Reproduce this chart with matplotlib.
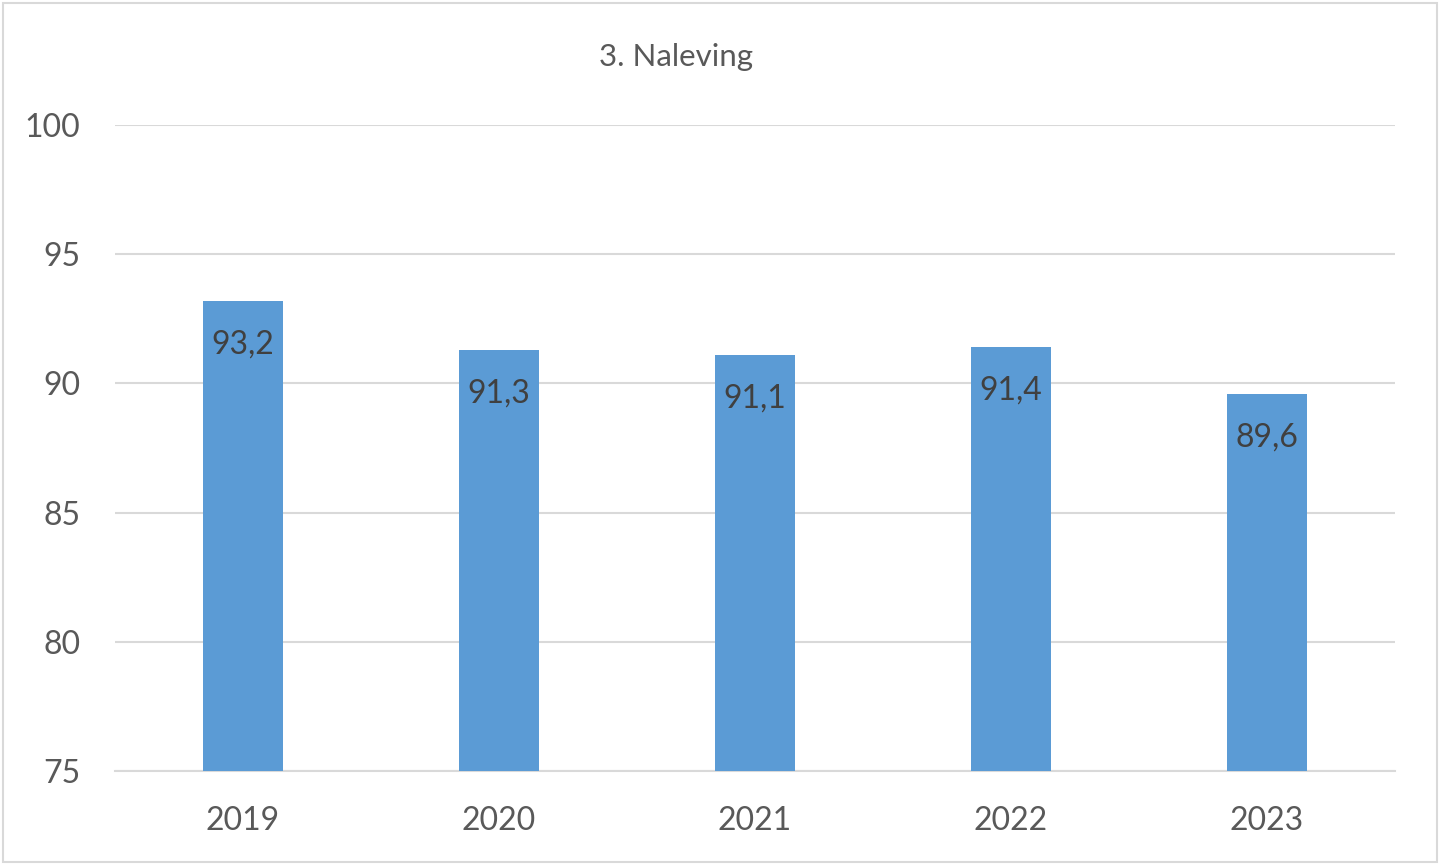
import matplotlib.pyplot as plt
from matplotlib.patches import Rectangle

years = ['2019', '2020', '2021', '2022', '2023']
scores = [93.2, 91.3, 91.1, 91.4, 89.6]
y_ticks = [75, 80, 85, 90, 95, 100]

plt.rcParams['font.family'] = ['Lato', 'DejaVu Sans']

fig = plt.figure(figsize=(14.4, 8.65), dpi=100)
ax = fig.add_axes([115 / 1440, 1 - 771 / 865, 1280 / 1440, 646 / 865])

x = range(len(years))
bars = ax.bar(x, [s - 75 for s in scores], bottom=75, width=0.3125,
              color='#5B9BD5', zorder=3)

# waarden in de staaf, net onder de bovenkant
for bar, s in zip(bars, scores):
    ax.annotate(f'{s:.1f}'.replace('.', ','),
                (bar.get_x() + bar.get_width() / 2, s),
                xytext=(0, -31.5), textcoords='offset points',
                ha='center', va='center', fontsize=23, color='#404040', zorder=4)

ax.set_xlim(-0.5, 4.5)
ax.set_ylim(75, 100)
ax.set_yticks(y_ticks)
ax.set_xticks(list(x))
ax.set_xticklabels(years)
ax.tick_params(axis='both', length=0, labelsize=23, colors='#595959')
ax.tick_params(axis='y', pad=25)
ax.tick_params(axis='x', pad=25)
ax.grid(axis='y', color='#D9D9D9', linewidth=1.5, zorder=0)
for side in ['top', 'right', 'left']:
    ax.spines[side].set_visible(False)
ax.spines['bottom'].set_color('#D9D9D9')
ax.spines['bottom'].set_linewidth(1.5)

fig.text(676 / 1440, 1 - 57 / 865, '3. Naleving', ha='center', va='center',
         fontsize=22.5, color='#595959')

fig.patches.append(Rectangle((0.002, 0.003), 0.996, 0.994, transform=fig.transFigure,
                             fill=False, edgecolor='#D9D9D9', linewidth=1.5))

fig.savefig('out.png', dpi=100)
